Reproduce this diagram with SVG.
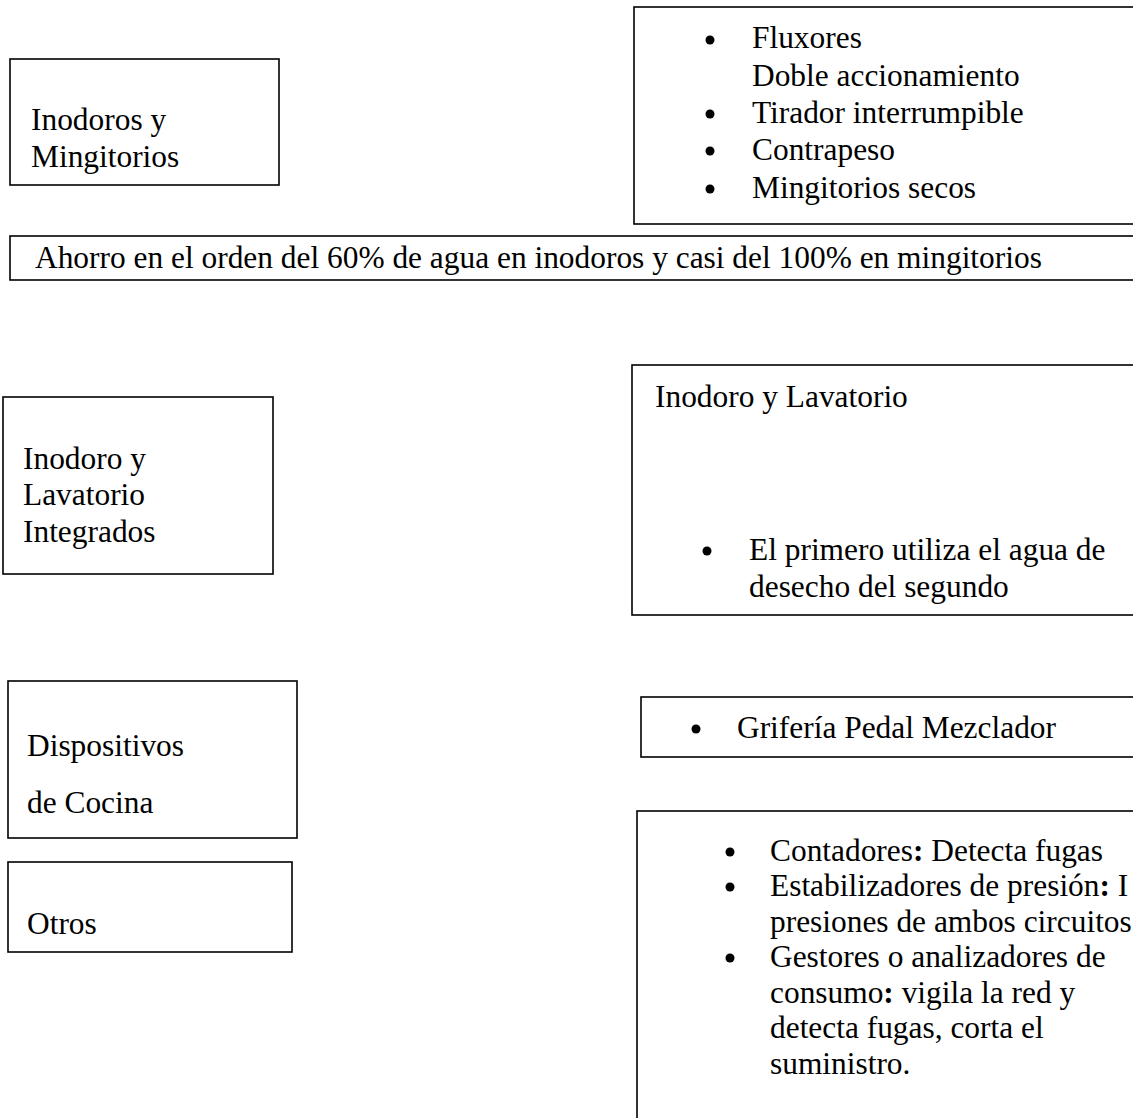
<svg xmlns="http://www.w3.org/2000/svg" width="1133" height="1118" viewBox="0 0 1133 1118">
<style>
.box{fill:#fff;stroke:#000;stroke-width:1.6}
text{font-family:"Liberation Serif","Times New Roman",serif;font-size:31.4px;fill:#000}
.dot{fill:#000}
</style>
<rect width="1133" height="1118" fill="#fff"/>
<g id="n-inodoros">
<rect class="box" x="10" y="59" width="269" height="126"/>
<text x="31" y="130">Inodoros y</text>
<text x="31" y="167">Mingitorios</text>
</g>
<g id="n-fluxores">
<rect class="box" x="634" y="7" width="520" height="217"/>
<circle class="dot" cx="710" cy="40" r="4.5"/>
<text x="752" y="48">Fluxores</text>
<text x="752" y="86">Doble accionamiento</text>
<circle class="dot" cx="710" cy="114" r="4.5"/>
<text x="752" y="123">Tirador interrumpible</text>
<circle class="dot" cx="710" cy="151" r="4.5"/>
<text x="752" y="160">Contrapeso</text>
<circle class="dot" cx="710" cy="189" r="4.5"/>
<text x="752" y="198">Mingitorios secos</text>
</g>
<g id="n-ahorro">
<rect class="box" x="10" y="236" width="1150" height="44"/>
<text x="35" y="268">Ahorro en el orden del 60% de agua en inodoros y casi del 100% en mingitorios</text>
</g>
<g id="n-integrados">
<rect class="box" x="3" y="397" width="270" height="177"/>
<text x="23" y="469">Inodoro y</text>
<text x="23" y="505">Lavatorio</text>
<text x="23" y="542">Integrados</text>
</g>
<g id="n-lavatorio">
<rect class="box" x="632" y="365" width="520" height="250"/>
<text x="655" y="407">Inodoro y Lavatorio</text>
<circle class="dot" cx="707" cy="551" r="4.5"/>
<text x="749" y="560">El primero utiliza el agua de</text>
<text x="749" y="597">desecho del segundo</text>
</g>
<g id="n-cocina">
<rect class="box" x="8" y="681" width="289" height="157"/>
<text x="27" y="756">Dispositivos</text>
<text x="27" y="813">de Cocina</text>
</g>
<g id="n-griferia">
<rect class="box" x="641" y="697" width="520" height="60"/>
<circle class="dot" cx="696" cy="729" r="4.5"/>
<text x="737" y="738">Grifería Pedal Mezclador</text>
</g>
<g id="n-otros">
<rect class="box" x="8" y="862" width="284" height="90"/>
<text x="27" y="934">Otros</text>
</g>
<g id="n-otros-detalle">
<rect class="box" x="637" y="811" width="520" height="330"/>
<circle class="dot" cx="730" cy="852" r="4.5"/>
<text x="770" y="861">Contadores<tspan font-weight="bold">:</tspan> Detecta fugas</text>
<circle class="dot" cx="730" cy="887" r="4.5"/>
<text x="770" y="896">Estabilizadores de presión<tspan font-weight="bold">:</tspan> I</text>
<text x="770" y="932">presiones de ambos circuitos</text>
<circle class="dot" cx="730" cy="958" r="4.5"/>
<text x="770" y="967">Gestores o analizadores de</text>
<text x="770" y="1003">consumo<tspan font-weight="bold">:</tspan> vigila la red y</text>
<text x="770" y="1038">detecta fugas, corta el</text>
<text x="770" y="1074">suministro.</text>
</g>
<g id="connectors"></g>
</svg>
